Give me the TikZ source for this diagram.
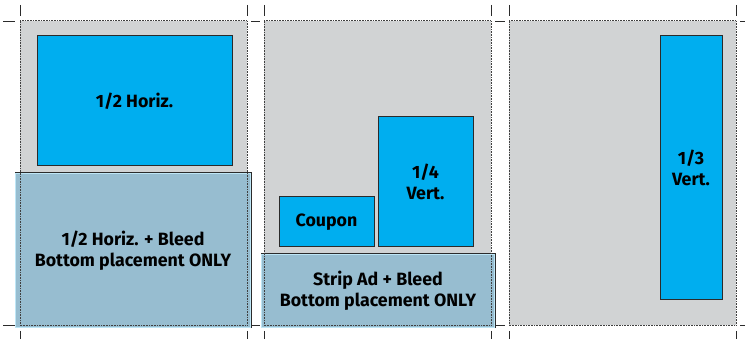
\documentclass[tikz,border=0pt]{standalone}
\usepackage{fontspec}
\setmainfont{Fira Sans}
\usepackage{xcolor}
\usetikzlibrary{positioning,calc}

\definecolor{pagegray}{HTML}{D1D3D4}
\definecolor{adcyan}{HTML}{00AEEF}
\definecolor{bleedblue}{HTML}{97BDD0}
\definecolor{rimblue}{HTML}{BEE6F6}
\definecolor{edgegray}{HTML}{2B2B2B}

\begin{document}
\begin{tikzpicture}[x=1pt,y=-1pt,
  page/.style={rectangle, fill=pagegray, inner sep=0pt, minimum width=227pt, minimum height=304pt},
  trim/.style={draw=edgegray!90, line width=0.6pt, dash pattern=on 0.8pt off 0.8pt},
  adbox/.style={draw=edgegray, line width=1pt, rectangle, inner sep=0pt, fill=adcyan, align=center, font=\bfseries\fontsize{17.8}{21.5}\selectfont},
  bleedbox/.style={adbox, fill=bleedblue},
  rim/.style={draw=rimblue, line width=1.3pt},
  crop/.style={draw=edgegray, line width=0.8pt}]
\useasboundingbox (0,0) rectangle (745,339);

% Pages
\node[page] (page1) at (133.5,173) {};
\node[page] (page2) at (377.5,173) {};
\node[page] (page3) at (622.5,173) {};

% Ads on page 1
\node[adbox, minimum width=195pt, minimum height=130pt] (half) at (134.5,101) {1/2 Horiz.};
\node[bleedbox, minimum width=236pt, minimum height=155pt] (halfbleed) at (133,250.5) {1/2 Horiz. + Bleed\\Bottom placement ONLY};

% Ads on page 2
\node[adbox, minimum width=95pt, minimum height=50pt] (coupon) at (326.5,222) {Coupon};
\node[adbox, minimum width=95pt, minimum height=130pt] (quarter) at (425.5,182) {1/4\\Vert.};
\node[bleedbox, minimum width=234pt, minimum height=74pt] (stripbleed) at (378,291) {Strip Ad + Bleed\\Bottom placement ONLY};

% Ad on page 3
\node[adbox, minimum width=62pt, minimum height=264pt] (third) at (691,168) {1/3\\Vert.};

% Light rims of the bleed ads
\draw[rim] ([shift={(1.2,1.2)}]halfbleed.north west) rectangle ([shift={(-1.2,-1.2)}]halfbleed.south east);
\draw[rim] ([shift={(1.2,1.2)}]stripbleed.north west) rectangle ([shift={(-1.2,-1.2)}]stripbleed.south east);

% Trim lines
\foreach \p in {page1,page2,page3}
  \draw[trim] (\p.north west) rectangle (\p.south east);

% Crop marks
\foreach \x in {20,247,264,491,509,736} {
  \draw[crop] (\x,5) -- (\x,16);
  \draw[crop] (\x,331) -- (\x,342);
}
\foreach \y in {21,325} {
  \draw[crop] (3,\y) -- (15,\y);
  \draw[crop] (251,\y) -- (260,\y);
  \draw[crop] (495,\y) -- (505,\y);
  \draw[crop] (740,\y) -- (750,\y);
}

\end{tikzpicture}
\end{document}
